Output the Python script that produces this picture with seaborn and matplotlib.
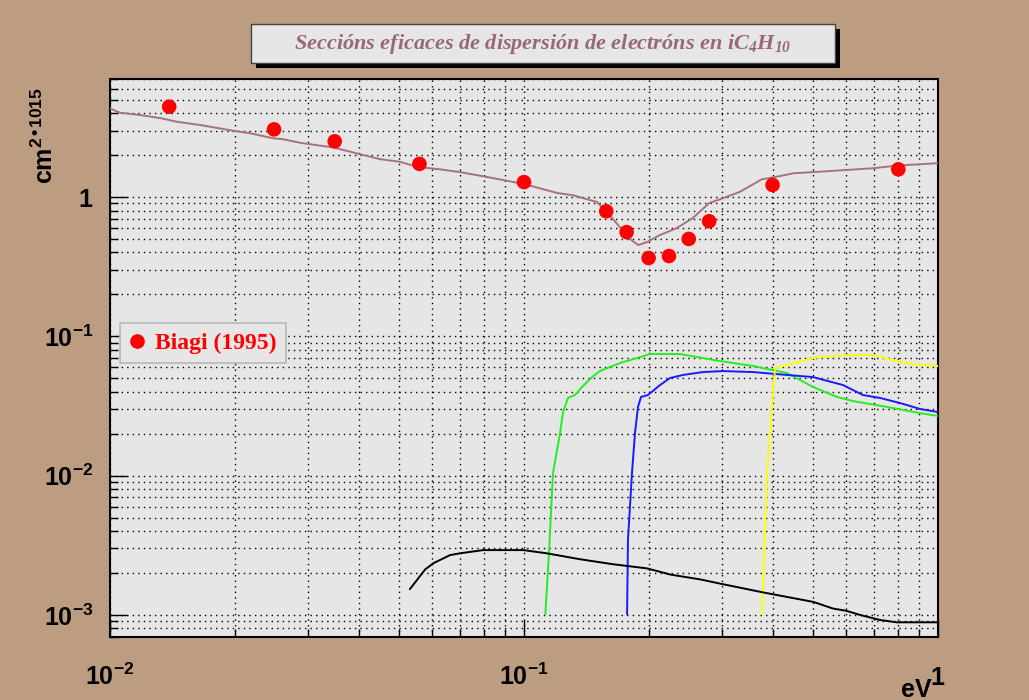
import numpy as np
import pandas as pd
import matplotlib
matplotlib.use('Agg')
import matplotlib.pyplot as plt
import seaborn as sns
from matplotlib.ticker import LogLocator, NullFormatter
from matplotlib.patches import Rectangle
from matplotlib.lines import Line2D

# ---------------- data ----------------
# total cross section (brown line)
E_tot = [0.01, 0.01057, 0.01181, 0.01333, 0.01449, 0.0165, 0.01986, 0.02179, 0.0248, 0.02622,
         0.02877, 0.03462, 0.04017, 0.04489, 0.05018, 0.05506, 0.06267, 0.0701, 0.0796, 0.0861,
         0.1, 0.1201, 0.1313, 0.15, 0.1586, 0.1704, 0.1804, 0.1887, 0.1984, 0.2128,
         0.234, 0.2558, 0.2803, 0.2974, 0.3325, 0.3752, 0.3985, 0.4472, 0.5188, 0.6982,
         0.795, 1.0]
sig_tot = [4.33, 4.03, 3.88, 3.67, 3.47, 3.29, 2.99, 2.87, 2.64, 2.60,
           2.45, 2.27, 2.03, 1.87, 1.79, 1.65, 1.58, 1.51, 1.41, 1.35,
           1.24, 1.07, 1.03, 0.921, 0.78, 0.609, 0.499, 0.452, 0.475, 0.533,
           0.599, 0.707, 0.906, 0.963, 1.09, 1.34, 1.38, 1.48, 1.52, 1.61,
           1.68, 1.75]

# Biagi (1995) points
E_biagi = [0.0139, 0.0249, 0.0349, 0.0559, 0.1, 0.158, 0.177, 0.2, 0.224, 0.25, 0.28, 0.3985, 0.802]
sig_biagi = [4.45, 3.06, 2.51, 1.73, 1.28, 0.79, 0.56, 0.365, 0.377, 0.50, 0.67, 1.22, 1.58]

# green
E_g = [0.1126, 0.1149, 0.1175, 0.1222, 0.1243, 0.1277, 0.1328, 0.1381, 0.1460, 0.1526,
       0.1706, 0.1875, 0.2015, 0.2381, 0.2617, 0.2974, 0.3574, 0.4318, 0.4990, 0.5702,
       0.6232, 0.7531, 0.9048, 1.0]
sig_g = [0.00101, 0.00278, 0.01044, 0.0202, 0.0286, 0.0361, 0.0379, 0.0433, 0.0510, 0.0564,
         0.0643, 0.0699, 0.0746, 0.0746, 0.0710, 0.0665, 0.0612, 0.0545, 0.0433, 0.0367,
         0.0343, 0.0311, 0.0281, 0.0268]

# blue
E_b = [0.1774, 0.1783, 0.1823, 0.1854, 0.1885, 0.1917, 0.1993, 0.2131, 0.2253, 0.2422,
       0.2706, 0.3024, 0.3574, 0.4318, 0.4990, 0.5896, 0.6588, 0.7241, 0.8093, 0.9048, 1.0]
sig_b = [0.00101, 0.00345, 0.01044, 0.0202, 0.0311, 0.0367, 0.0379, 0.0447, 0.0502, 0.0528,
         0.0554, 0.0563, 0.0554, 0.0528, 0.0510, 0.0447, 0.0379, 0.0361, 0.0332, 0.0301, 0.0286]

# yellow
E_y = [0.3757, 0.3864, 0.397, 0.404, 0.4135, 0.499, 0.603, 0.6966, 0.8093, 0.9048, 1.0]
sig_y = [0.00101, 0.0104, 0.0311, 0.0592, 0.0601, 0.0699, 0.0734, 0.0734, 0.0654, 0.0622, 0.0612]

# black
E_k = [0.0530, 0.0577, 0.0604, 0.0663, 0.0701, 0.0797, 0.0996, 0.1134, 0.1366, 0.1643,
       0.1978, 0.2092, 0.2253, 0.2661, 0.300, 0.3784, 0.4999, 0.5585, 0.601, 0.648,
       0.724, 0.795, 1.0]
sig_k = [1.53e-3, 2.12e-3, 2.35e-3, 2.69e-3, 2.77e-3, 2.92e-3, 2.92e-3, 2.77e-3, 2.51e-3, 2.31e-3,
         2.16e-3, 2.07e-3, 1.95e-3, 1.80e-3, 1.67e-3, 1.45e-3, 1.24e-3, 1.11e-3, 1.07e-3, 1.0e-3,
         9.2e-4, 8.85e-4, 8.85e-4]

x_ticks = [0.01, 0.1, 1.0]
x_ticklabels = [r'$\mathdefault{10^{-2}}$', r'$\mathdefault{10^{-1}}$', r'$\mathdefault{1}$']
y_ticks = [1e-3, 1e-2, 1e-1, 1.0]
y_ticklabels = [r'$\mathdefault{10^{-3}}$', r'$\mathdefault{10^{-2}}$', r'$\mathdefault{10^{-1}}$', r'$\mathdefault{1}$']

title = r'Seccións eficaces de dispersión de electróns en $\mathdefault{iC_4H_{10}}$'
legend_label = 'Biagi (1995)'

# ---------------- style ----------------
sns.set_theme(style='white')
plt.rcParams['font.family'] = ['Liberation Sans', 'DejaVu Sans']

BG = '#bd9d82'
PANEL = '#e6e6e6'

fig = plt.figure(figsize=(10.29, 7.0), dpi=100, facecolor=BG)
W, H = 1029.0, 700.0
ax = fig.add_axes([110 / W, 1 - 636.5 / H, 828 / W, 557.2 / H])
ax.set_facecolor(PANEL)
ax.set_xscale('log')
ax.set_yscale('log')

lw = 1.4
sns.lineplot(x=E_tot, y=sig_tot, ax=ax, color='#a3747c', lw=lw, sort=False, estimator=None, zorder=3)
sns.lineplot(x=E_g, y=sig_g, ax=ax, color='#22ee22', lw=lw, sort=False, estimator=None, zorder=3)
sns.lineplot(x=E_b, y=sig_b, ax=ax, color='#1a1aff', lw=lw, sort=False, estimator=None, zorder=3)
sns.lineplot(x=E_y, y=sig_y, ax=ax, color='#ffff00', lw=lw, sort=False, estimator=None, zorder=3)
sns.lineplot(x=E_k, y=sig_k, ax=ax, color='black', lw=lw, sort=False, estimator=None, zorder=3)
sns.scatterplot(x=E_biagi, y=sig_biagi, ax=ax, color='red', s=110, edgecolor='none', zorder=5)

ax.set_xlim(0.01, 1.0)
ax.set_ylim(7e-4, 7.0)

# grid on all major + minor ticks
ax.xaxis.set_minor_locator(LogLocator(base=10, subs=np.arange(2, 10)))
ax.yaxis.set_minor_locator(LogLocator(base=10, subs=np.arange(2, 10)))
ax.xaxis.set_minor_formatter(NullFormatter())
ax.yaxis.set_minor_formatter(NullFormatter())
ax.set_axisbelow(True)
ax.grid(True, which='both', color='black', linestyle=(0, (1, 3)), linewidth=1.0)

ax.set_xticks(x_ticks, labels=x_ticklabels, fontweight='bold', fontsize=18, color='black')
ax.set_yticks(y_ticks, labels=y_ticklabels, fontweight='bold', fontsize=18, color='black')
for t in ax.get_xticklabels():
    t.set_verticalalignment('baseline')

ax.tick_params(axis='both', which='both', direction='in', left=True, bottom=True,
               right=False, top=False, color='black', width=1)
ax.tick_params(axis='both', which='major', length=12)
ax.tick_params(axis='both', which='minor', length=6)
ax.tick_params(axis='x', which='major', pad=35)
ax.tick_params(axis='y', which='major', pad=12)

for s in ax.spines.values():
    s.set_color('black')
    s.set_linewidth(1.5)

# axis titles
ax.text(-0.0785, 0.986, r'$\mathdefault{cm^{2•1015}}$', transform=ax.transAxes, rotation=90,
        ha='center', va='top', fontsize=18, fontweight='bold', color='black')
ax.text(0.9928, -0.1086, 'eV', transform=ax.transAxes, ha='right', va='baseline',
        fontsize=18, fontweight='bold', color='black')

# legend
handles = [Line2D([], [], marker='o', color='red', linestyle='none', markersize=9.5)]
leg = ax.legend(handles, [legend_label], loc='upper left',
                bbox_to_anchor=((120 - 110) / 828, (636.5 - 323) / 557.2), borderaxespad=0,
                frameon=True, fancybox=False, facecolor=PANEL, edgecolor='#b8b8b8', framealpha=1,
                prop={'family': 'Liberation Serif', 'weight': 'bold', 'size': 17},
                handlelength=0.6, handletextpad=0.5, borderpad=0.4, labelcolor='red')
leg.get_frame().set_linewidth(1.2)
leg.set_zorder(10)

# title box with shadow
fig.patches.append(Rectangle((256 / W, 1 - 68 / H), 584 / W, 39 / H, transform=fig.transFigure,
                             facecolor='black', edgecolor='none', zorder=0))
fig.patches.append(Rectangle((251 / W, 1 - 63 / H), 584 / W, 39 / H, transform=fig.transFigure,
                             facecolor=PANEL, edgecolor='#444444', lw=1, zorder=1))
fig.text(543 / W, 1 - 43.5 / H, title, ha='center', va='center', family='Liberation Serif',
         fontweight='bold', style='italic', fontsize=16, color='#986878', zorder=2)

fig.savefig('out.png', dpi=100, facecolor=BG)
